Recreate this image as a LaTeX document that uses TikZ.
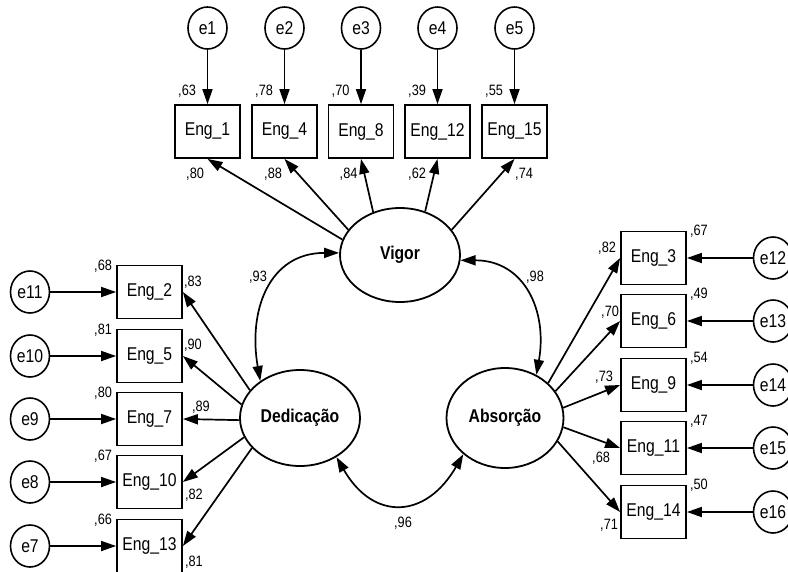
\documentclass[tikz,border=0pt]{standalone}
\usepackage{fontspec}
\setmainfont{Liberation Sans}[FakeStretch=0.85]
\usetikzlibrary{shapes.geometric, arrows.meta, calc}

\begin{document}
\begin{tikzpicture}[
  x=1pt, y=-1pt,
  latent/.style={ellipse, draw, line width=1.8pt, inner sep=0pt,
    font=\fontsize{18.5}{20}\selectfont\bfseries},
  item/.style={rectangle, draw, line width=1.8pt, inner sep=0pt,
    minimum width=65pt, minimum height=53pt,
    font=\fontsize{18.5}{20}\selectfont},
  err/.style={ellipse, draw, line width=1.6pt, inner sep=0pt,
    minimum width=39pt, minimum height=42pt,
    font=\fontsize{18.5}{20}\selectfont},
  est/.style={font=\fontsize{15}{17}\selectfont, inner sep=0pt},
  load/.style={-{Triangle[length=15pt,width=10pt]}, line width=1.7pt},
  cov/.style={{Triangle[length=15pt,width=10pt]}-{Triangle[length=15pt,width=10pt]},
    line width=1.7pt},
]
\useasboundingbox (0,0) rectangle (788,571);
\clip (0,0) rectangle (788,571);

% latent factors
\node[latent, minimum width=120pt, minimum height=94pt] (vigor) at (400,255) {Vigor};
\node[latent, minimum width=120pt, minimum height=96pt] (dedic) at (300,418) {Dedicação};
\node[latent, minimum width=117pt, minimum height=100pt] (absor) at (505,418) {Absorção};

% Vigor items (top row)
\foreach \n/\e/\x/\r/\l/\dx/\ang in {
  1/1/207.5/63/80/21/165, 4/2/284.5/78/88/22/154,
  8/3/361/70/84/21/122, 12/4/437.5/39/62/13/60,
  15/5/514.5/55/74/43/26}{
  \node[item] (eng\n) at (\x,131.5) {Eng\_\n};
  \node[err] (e\e) at (\x,28) {e\e};
  \draw[load] (e\e) -- (eng\n);
  \draw[load] (vigor.\ang) -- (eng\n.south);
  \node[est] at ($(eng\n.north west)+(13,-13)$) {,\r};
  \node[est] at ($(eng\n.south west)+(\dx,15)$) {,\l};
}

% Dedicacao items (left column)
\foreach \n/\e/\y/\r/\l/\dx/\dy/\ang in {
  2/11/292/68/83/10/-10/151, 5/10/356/81/90/10/-11/167,
  7/9/419/80/89/18/-12/182, 10/8/482/67/82/11/13/199,
  13/7/546/66/81/11/16/212}{
  \node[item] (eng\n) at (149.5,\y) {Eng\_\n};
  \node[err] (e\e) at (30,\y) {e\e};
  \draw[load] (e\e) -- (eng\n);
  \draw[load] (dedic.\ang) -- (eng\n.east);
  \node[est] at ($(eng\n.north west)+(-13,2)$) {,\r};
  \node[est] at ($(eng\n.east)+(\dx,\dy)$) {,\l};
}

% Absorcao items (right column)
\foreach \n/\e/\y/\r/\l/\dx/\dy/\ang in {
  3/12/258/67/82/-13/-10/39, 6/13/321/49/70/-10/-9/28,
  9/14/385/54/73/-16/-8/10, 11/15/448/47/68/-19/10/-9,
  14/16/512/50/71/-11/13/-24}{
  \node[item] (eng\n) at (653.5,\y) {Eng\_\n};
  \node[err] (e\e) at (773,\y) {e\e};
  \draw[load] (e\e) -- (eng\n);
  \draw[load] (absor.\ang) -- (eng\n.west);
  \node[est] at ($(eng\n.north east)+(12,1)$) {,\r};
  \node[est] at ($(eng\n.west)+(\dx,\dy)$) {,\l};
}

% correlations between factors
\draw[cov] (vigor.178) to[out=180, in=100, looseness=1.2] (dedic.137);
\draw[cov] (vigor.355) to[out=0, in=80, looseness=1.2] (absor.54);
\draw[cov] (dedic.-47) to[out=-60, in=-120, looseness=1.5] (absor.221);

\node[est] (r93) at (258,277) {,93};
\node[est] (r98) at (535,277) {,98};
\node[est] (r96) at (403,523) {,96};

\end{tikzpicture}
\end{document}
